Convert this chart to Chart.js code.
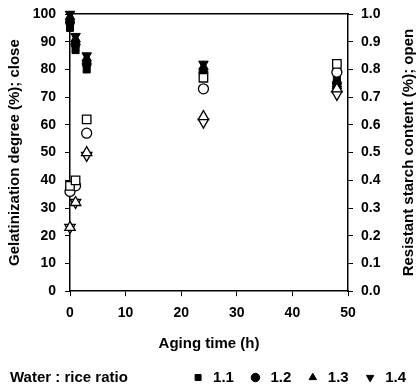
<!DOCTYPE html>
<html>
<head>
<meta charset="utf-8">
<script src="https://cdn.jsdelivr.net/npm/chart.js@4/dist/chart.umd.min.js"></script>
<style>
    html, body { margin: 0; padding: 0; background: #fff; }
    #caixa { position: relative; width: 417px; height: 389px; }
    #legendaTitulo {
        position: absolute; left: 10px; top: 368px;
        font: bold 15px "Liberation Sans", Arial, sans-serif; color: #000;
    }
</style>
</head>
<body>
<div id="caixa">
    <canvas id="grafico" width="417" height="389"></canvas>
    <div id="legendaTitulo">Water : rice ratio</div>
</div>
<script>
// Dados
const tempos = [0, 1, 3, 24, 48];
const razoes = ['1.1', '1.2', '1.3', '1.4'];

// Grau de gelatinização (%) - símbolos cheios, eixo esquerdo
const gel11 = [95, 87, 80, 78, 77];
const gel12 = [97, 89, 82, 79, 75];
const gel13 = [99, 91, 84, 81, 74];
const gel14 = [100, 92, 85, 82, 73];

// Amido resistente - símbolos vazios, eixo direito
const ar11 = [0.38, 0.40, 0.62, 0.77, 0.82];
const ar12 = [0.36, 0.38, 0.57, 0.73, 0.79];
const ar13 = [0.23, 0.32, 0.50, 0.63, 0.73];
const ar14 = [0.23, 0.32, 0.49, 0.61, 0.71];

const tituloDireita = 'Resistant starch content (%); open';

const estilos = [
    { pointStyle: 'rect', rotation: 0, raio: 5.5 },
    { pointStyle: 'circle', rotation: 0, raio: 4.5 },
    { pointStyle: 'triangle', rotation: 0, raio: 5.5 },
    { pointStyle: 'triangle', rotation: 180, raio: 5.5 }
];

function pontos(valores) {
    return tempos.map((t, i) => ({ x: t, y: valores[i] }));
}

function serie(rotulo, valores, idx, cheio, eixo) {
    const e = estilos[idx];
    const raio = (cheio && idx === 0) ? 5 : e.raio + (cheio ? 0 : 0.5);
    return {
        label: rotulo,
        data: pontos(valores),
        yAxisID: eixo,
        pointStyle: e.pointStyle,
        rotation: e.rotation,
        pointRadius: raio,
        pointHoverRadius: raio,
        backgroundColor: cheio ? '#000' : '#fff',
        borderColor: '#000',
        borderWidth: cheio ? 1 : 1.3,
        showLine: false,
        clip: false
    };
}

const conjuntos = [
    serie('ar ' + razoes[0], ar11, 0, false, 'y1'),
    serie('ar ' + razoes[1], ar12, 1, false, 'y1'),
    serie('ar ' + razoes[2], ar13, 2, false, 'y1'),
    serie('ar ' + razoes[3], ar14, 3, false, 'y1'),
    serie(razoes[0], gel11, 0, true, 'y'),
    serie(razoes[1], gel12, 1, true, 'y'),
    serie(razoes[2], gel13, 2, true, 'y'),
    serie(razoes[3], gel14, 3, true, 'y')
];

const fonte = { family: '"Liberation Sans", Arial, sans-serif', size: 14, weight: 'bold' };
const fonteTitulo = { ...fonte, size: 15 };
Chart.defaults.color = '#000';

// Título do eixo direito lido de baixo para cima, como no original
const tituloEixoDireito = {
    id: 'tituloEixoDireito',
    afterDraw(chart) {
        const ctx = chart.ctx;
        const area = chart.chartArea;
        ctx.save();
        ctx.translate(409, (area.top + area.bottom) / 2);
        ctx.rotate(-Math.PI / 2);
        ctx.font = 'bold 15px "Liberation Sans", Arial, sans-serif';
        ctx.fillStyle = '#000';
        ctx.textAlign = 'center';
        ctx.textBaseline = 'middle';
        ctx.fillText(tituloDireita, 0, 0);
        ctx.restore();
    }
};

// Legenda: altura reservada menor e itens encostados à direita
const ajusteLegenda = {
    id: 'ajusteLegenda',
    beforeInit(chart) {
        const fitOriginal = chart.legend.fit;
        chart.legend.fit = function () {
            fitOriginal.call(this);
            this.height = 31;
        };
    },
    afterLayout(chart) {
        chart.legend.left += 3;
        chart.legend.right += 3;
    }
};

// largura fixa dos eixos verticais e folga de topo de 14px
function fixarEixoY(largura) {
    return s => {
        s.width = largura;
        s.paddingTop = 14;
        s.paddingBottom = 8;
    };
}

const gradeEixo = { drawOnChartArea: false, drawTicks: true, tickLength: 5, color: '#000', lineWidth: 1 };
const borda = { display: true, color: '#000', width: 1.5 };

new Chart(document.getElementById('grafico'), {
    type: 'scatter',
    data: { datasets: conjuntos },
    options: {
        responsive: false,
        animation: false,
        layout: { padding: { top: 0, left: 0, right: 0, bottom: 2 } },
        plugins: {
            tooltip: { enabled: false },
            legend: {
                position: 'bottom',
                align: 'end',
                labels: {
                    filter: item => item.datasetIndex >= 4,
                    usePointStyle: true,
                    boxWidth: 18,
                    boxHeight: 6,
                    padding: 14,
                    font: fonteTitulo,
                    color: '#000'
                }
            }
        },
        scales: {
            x: {
                type: 'linear', min: 0, max: 50,
                ticks: { stepSize: 10, font: fonte, color: '#000', padding: 9 },
                grid: gradeEixo,
                border: borda,
                title: { display: true, text: 'Aging time (h)', font: fonteTitulo, color: '#000', padding: { top: 4, bottom: 3 } }
            },
            xTopo: {
                type: 'linear', position: 'top', min: 0, max: 50,
                ticks: { display: false },
                grid: { drawOnChartArea: false, drawTicks: false },
                border: borda,
                afterFit: s => { s.height = 0; }
            },
            y: {
                position: 'left', min: 0, max: 100,
                ticks: { stepSize: 10, font: fonte, color: '#000', padding: 9 },
                grid: gradeEixo,
                border: borda,
                title: { display: true, text: 'Gelatinization degree (%); close', font: fonteTitulo, color: '#000', padding: { top: 6, bottom: 0 } },
                afterFit: fixarEixoY(70)
            },
            y1: {
                position: 'right', min: 0, max: 1,
                ticks: { stepSize: 0.1, font: fonte, color: '#000', padding: 8, callback: v => Number(v).toFixed(1) },
                grid: gradeEixo,
                border: borda,
                afterFit: fixarEixoY(69)
            }
        }
    },
    plugins: [tituloEixoDireito, ajusteLegenda]
});
</script>
</body>
</html>
